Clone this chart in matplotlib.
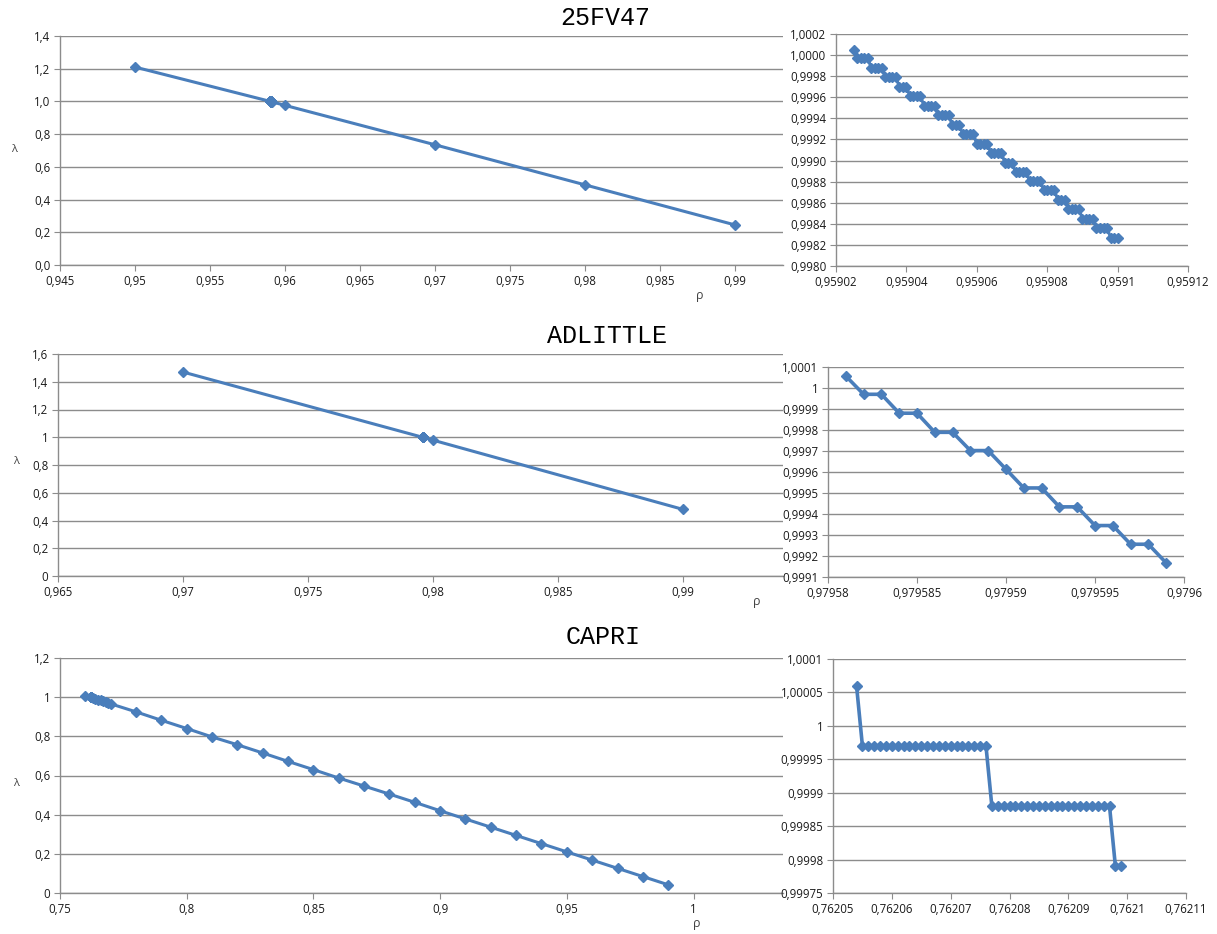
"""Three LP problems: lambda vs rho, full range (left) and zoom near lambda = 1 (right)."""

import matplotlib
matplotlib.use("Agg")
import matplotlib.pyplot as plt
from matplotlib.ticker import MultipleLocator, FuncFormatter

# ---- data ----
TITLES = ["25FV47", "ADLITTLE", "CAPRI"]

fv_fine_rho = [
    0.959025, 0.959026, 0.959027, 0.959028, 0.959029, 0.959030, 0.959031, 0.959032,
    0.959033, 0.959034, 0.959035, 0.959036, 0.959037, 0.959038, 0.959039, 0.959040,
    0.959041, 0.959042, 0.959043, 0.959044, 0.959045, 0.959046, 0.959047, 0.959048,
    0.959049, 0.959050, 0.959051, 0.959052, 0.959053, 0.959054, 0.959055, 0.959056,
    0.959057, 0.959058, 0.959059, 0.959060, 0.959061, 0.959062, 0.959063, 0.959064,
    0.959065, 0.959066, 0.959067, 0.959068, 0.959069, 0.959070, 0.959071, 0.959072,
    0.959073, 0.959074, 0.959075, 0.959076, 0.959077, 0.959078, 0.959079, 0.959080,
    0.959081, 0.959082, 0.959083, 0.959084, 0.959085, 0.959086, 0.959087, 0.959088,
    0.959089, 0.959090, 0.959091, 0.959092, 0.959093, 0.959094, 0.959095, 0.959096,
    0.959097, 0.959098, 0.959099, 0.959100,
]
fv_fine_lam = [
    1.00005,
    0.99997, 0.99997, 0.99997, 0.99997,
    0.99988, 0.99988, 0.99988, 0.99988,
    0.99979, 0.99979, 0.99979, 0.99979,
    0.99970, 0.99970, 0.99970,
    0.99961, 0.99961, 0.99961, 0.99961,
    0.99952, 0.99952, 0.99952, 0.99952,
    0.99943, 0.99943, 0.99943, 0.99943,
    0.99934, 0.99934, 0.99934,
    0.99925, 0.99925, 0.99925, 0.99925,
    0.99916, 0.99916, 0.99916, 0.99916,
    0.99907, 0.99907, 0.99907, 0.99907,
    0.99898, 0.99898, 0.99898,
    0.99889, 0.99889, 0.99889, 0.99889,
    0.99881, 0.99881, 0.99881, 0.99881,
    0.99872, 0.99872, 0.99872, 0.99872,
    0.99863, 0.99863, 0.99863,
    0.99854, 0.99854, 0.99854, 0.99854,
    0.99845, 0.99845, 0.99845, 0.99845,
    0.99836, 0.99836, 0.99836, 0.99836,
    0.99827, 0.99827, 0.99827,
]
fv_rho = [0.95] + fv_fine_rho + [0.96, 0.97, 0.98, 0.99]
fv_lam = [1.21] + fv_fine_lam + [0.976, 0.735, 0.49, 0.245]

ad_fine_rho = [
    0.979581, 0.979582, 0.979583, 0.979584, 0.979585, 0.979586, 0.979587,
    0.979588, 0.979589, 0.979590, 0.979591, 0.979592, 0.979593, 0.979594,
    0.979595, 0.979596, 0.979597, 0.979598, 0.979599,
]
ad_fine_lam = [
    1.000057, 0.99997, 0.99997, 0.99988, 0.99988, 0.999789, 0.999789,
    0.999702, 0.999702, 0.999613, 0.999524, 0.999524, 0.999434, 0.999434,
    0.999345, 0.999345, 0.999256, 0.999256, 0.999167,
]
ad_rho = [0.97] + ad_fine_rho + [0.98, 0.99]
ad_lam = [1.47] + ad_fine_lam + [0.979, 0.48]

ca_fine_rho = [
    0.762054,
    0.762055, 0.762056, 0.762057, 0.762058, 0.762059, 0.762060, 0.762061, 0.762062,
    0.762063, 0.762064, 0.762065, 0.762066, 0.762067, 0.762068, 0.762069, 0.762070,
    0.762071, 0.762072, 0.762073, 0.762074, 0.762075, 0.762076,
    0.762077, 0.762078, 0.762079, 0.762080, 0.762081, 0.762082, 0.762083, 0.762084,
    0.762085, 0.762086, 0.762087, 0.762088, 0.762089, 0.762090, 0.762091, 0.762092,
    0.762093, 0.762094, 0.762095, 0.762096, 0.762097,
    0.762098, 0.762099,
]
ca_fine_lam = (
    [1.00006]
    + [0.99997] * 22
    + [0.99988] * 21
    + [0.99979] * 2
)
ca_rho = (
    [0.76] + ca_fine_rho
    + [0.763, 0.764, 0.765, 0.766, 0.767, 0.768, 0.769, 0.77,
       0.78, 0.79, 0.80, 0.81, 0.82, 0.83, 0.84, 0.85, 0.86, 0.87, 0.88,
       0.89, 0.90, 0.91, 0.92, 0.93, 0.94, 0.95, 0.96, 0.97, 0.98, 0.99]
)
ca_lam = (
    [1.005] + ca_fine_lam
    + [0.996, 0.992, 0.987, 0.983, 0.979, 0.975, 0.971, 0.966,
       0.925, 0.882, 0.840, 0.797, 0.757, 0.715, 0.672, 0.630, 0.587, 0.546, 0.505,
       0.463, 0.420, 0.378, 0.336, 0.294, 0.252, 0.210, 0.168, 0.126, 0.084, 0.042]
)

BLUE = "#4a7ebb"
GRID = "#8c8c8c"
W, H = 1217, 934


def comma(fmt=None):
    def f(v, _pos):
        if fmt:
            s = fmt % v
        else:
            s = f"{round(v, 9):.10g}"
        return s.replace(".", ",").replace("-0", "0") if s != "-0" else "0"
    return FuncFormatter(f)


def add_ax(fig, x0, y0, x1, y1):
    return fig.add_axes([x0 / W, 1 - y1 / H, (x1 - x0) / W, (y1 - y0) / H])


def style(ax, xlim, xstep, ylim, ystep, yfmt=None):
    ax.set_xlim(*xlim)
    ax.set_ylim(*ylim)
    ax.xaxis.set_major_locator(MultipleLocator(xstep))
    ax.yaxis.set_major_locator(MultipleLocator(ystep))
    ax.xaxis.set_major_formatter(comma())
    ax.yaxis.set_major_formatter(comma(yfmt))
    ax.grid(axis="y", color=GRID, linewidth=1.0)
    ax.set_axisbelow(True)
    for s in ("top", "right"):
        ax.spines[s].set_visible(False)
    for s in ("left", "bottom"):
        ax.spines[s].set_color(GRID)
        ax.spines[s].set_linewidth(1.0)
    ax.tick_params(axis="both", direction="out", length=4, color=GRID,
                   labelsize=8.3, labelcolor="#1a1a1a", pad=3)


fig = plt.figure(figsize=(W / 100, H / 100), dpi=100)
plt.rcParams["font.family"] = ["Open Sans", "DejaVu Sans"]

# 25FV47
ax = add_ax(fig, 60, 36, 783, 265)
style(ax, (0.945, 0.9932), 0.005, (0, 1.4), 0.2, "%.1f")
ax.plot(fv_rho, fv_lam, color=BLUE, lw=2.2, marker="D", ms=5)
ax = add_ax(fig, 836, 34, 1188, 266)
style(ax, (0.95902, 0.95912), 0.00002, (0.998, 1.0002), 0.0002, "%.4f")
ax.plot(fv_fine_rho, fv_fine_lam, color=BLUE, lw=2.2, marker="D", ms=5.5)

# ADLITTLE
ax = add_ax(fig, 58, 354, 783, 576)
style(ax, (0.965, 0.994), 0.005, (0, 1.6), 0.2)
ax.plot(ad_rho, ad_lam, color=BLUE, lw=2.2, marker="D", ms=5)
ax = add_ax(fig, 828, 367, 1184, 577)
style(ax, (0.97958, 0.9796), 0.000005, (0.9991, 1.0001), 0.0001)
ax.plot(ad_fine_rho, ad_fine_lam, color=BLUE, lw=2.6, marker="D", ms=5.5)

# CAPRI
ax = add_ax(fig, 60, 658, 783, 893)
style(ax, (0.75, 1.0353), 0.05, (0, 1.2), 0.2)
ax.plot(ca_rho, ca_lam, color=BLUE, lw=2.2, marker="D", ms=5)
ax = add_ax(fig, 833, 659, 1186, 893)
style(ax, (0.76205, 0.76211), 0.00001, (0.99975, 1.0001), 0.00005)
ax.plot(ca_fine_rho, ca_fine_lam, color=BLUE, lw=2.6, marker="D", ms=5.5)

# titles and axis labels
for title, (x, y) in zip(TITLES, [(605, 18), (607, 336), (603, 637)]):
    fig.text(x / W, 1 - y / H, title, family="Liberation Mono", fontsize=18,
             ha="center", va="center", color="black")
for (x, y) in [(14, 150), (16, 462), (16, 783)]:
    fig.text(x / W, 1 - y / H, "λ", fontsize=8, ha="center", va="center",
             color="#444444")
for (x, y) in [(700, 296), (757, 602), (697, 924)]:
    fig.text(x / W, 1 - y / H, "ρ", fontsize=9, ha="center", va="center",
             color="#444444")

fig.savefig("out.png", dpi=100)
